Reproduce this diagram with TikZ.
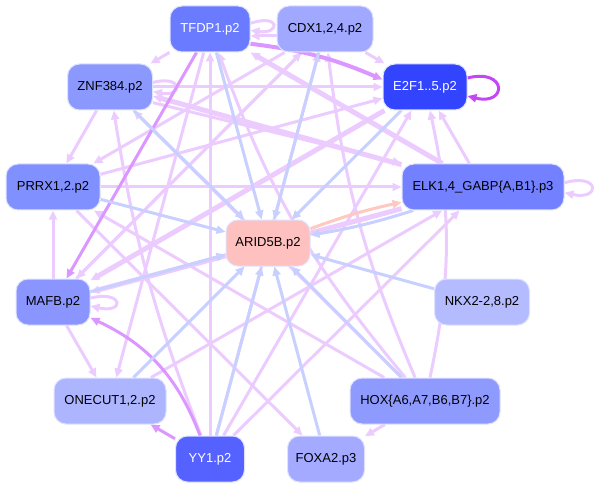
\documentclass[tikz,border=0pt]{standalone}
\usepackage{fontspec}
\setmainfont{Liberation Sans}
\usetikzlibrary{arrows.meta,backgrounds}
\definecolor{ndborder}{RGB}{222,226,255}
\definecolor{lpc}{RGB}{236,204,255}
\definecolor{spc}{RGB}{220,150,255}
\definecolor{mgc}{RGB}{196,70,245}
\definecolor{blc}{RGB}{200,208,255}
\definecolor{pkc}{RGB}{255,200,192}
\begin{document}
\begin{tikzpicture}[x=1pt,y=-1pt,
  nd/.style={rounded corners=12pt, draw=ndborder, line width=1pt, minimum height=46pt, inner sep=0pt,
    font=\fontsize{13}{15}\selectfont},
  tip/.style={-{Triangle[length=9pt,width=8pt]}},
  lp/.style={tip, draw=lpc, line width=3pt},
  lpt/.style={tip, draw=lpc, line width=5pt},
  sp/.style={tip, draw=spc, line width=3pt},
  mg/.style={tip, draw=mgc, line width=3pt},
  bl/.style={tip, draw=blc, line width=3pt},
  pk/.style={tip, draw=pkc, line width=3pt}]
\useasboundingbox (0,0) rectangle (594,489);
\node[nd, fill={rgb,255:red,107;green,123;blue,255}, text=white, minimum width=80pt] (tfdp) at (210,29) {TFDP1.p2};
\node[nd, fill={rgb,255:red,160;green,168;blue,255}, minimum width=96pt] (cdx) at (325,29) {CDX1,2,4.p2};
\node[nd, fill={rgb,255:red,51;green,68;blue,255}, text=white, minimum width=84pt] (e2f) at (425,87) {E2F1..5.p2};
\node[nd, fill={rgb,255:red,139;green,153;blue,255}, minimum width=85pt] (znf) at (110,87) {ZNF384.p2};
\node[nd, fill={rgb,255:red,128;green,144;blue,255}, minimum width=94pt] (prrx) at (53,187) {PRRX1,2.p2};
\node[nd, fill={rgb,255:red,115;green,128;blue,255}, minimum width=162pt] (elk) at (483,187) {ELK1,4\_GABP\{A,B1\}.p3};
\node[nd, fill={rgb,255:red,255;green,192;blue,192}, minimum width=84pt] (arid) at (268,243) {ARID5B.p2};
\node[nd, fill={rgb,255:red,180;green,188;blue,255}, minimum width=95pt] (nkx) at (482,302) {NKX2-2,8.p2};
\node[nd, fill={rgb,255:red,138;green,149;blue,255}, minimum width=74pt] (mafb) at (53,302) {MAFB.p2};
\node[nd, fill={rgb,255:red,173;green,181;blue,255}, minimum width=112pt] (onecut) at (110,401) {ONECUT1,2.p2};
\node[nd, fill={rgb,255:red,85;green,98;blue,255}, text=white, minimum width=69pt] (yy1) at (210,459) {YY1.p2};
\node[nd, fill={rgb,255:red,163;green,170;blue,255}, minimum width=77pt] (foxa) at (326,459) {FOXA2.p3};
\node[nd, fill={rgb,255:red,143;green,154;blue,255}, minimum width=150pt] (hox) at (425,401) {HOX\{A6,A7,B6,B7\}.p2};
\begin{scope}[on background layer]
% purple edges
\draw[lp] (tfdp) -- (znf);
\draw[lp] ([yshift=-7pt]cdx.west) -- ([yshift=-7pt]tfdp.east);
\draw[lp] (tfdp.8) .. controls +(30,-10) and +(30,4) .. (tfdp.-2);
\draw[lp] (cdx) -- (e2f);
\draw[lp] (znf) -- (prrx);
\draw[lp] (znf) -- (e2f);
\draw[lp] (znf.6) .. controls +(30,-8) and +(30,6) .. (znf.-6);
\draw[lpt] (elk) -- (znf.-12);
\draw[lpt] (elk) -- (tfdp.south east);
\draw[lp] (znf.-20) -- (elk.north west);
\draw[lp] (prrx) -- (elk);
\draw[lp] (prrx) -- (e2f);
\draw[lp] (prrx) -- (foxa);
\draw[lp] (cdx) -- (prrx);
\draw[lp] (hox) -- (prrx);
\draw[lp] (mafb) -- (prrx);
\draw[lp] (mafb) -- (onecut);
\draw[lp] (mafb.6) .. controls +(34,-8) and +(34,8) .. (mafb.-6);
\draw[lp] (cdx) -- (mafb);
\draw[lpt] (e2f) -- (mafb);
\draw[lpt] (elk) -- (mafb);
\draw[lp] (mafb) -- (cdx);
\draw[lp] (tfdp) -- (onecut);
\draw[lp] (onecut) -- (elk);
\draw[lp] (yy1) -- (tfdp);
\draw[lp] (yy1) to[bend left=6] (znf);
\draw[lp] (yy1) -- (cdx);
\draw[lp] (yy1) -- (e2f);
\draw[lp] (yy1) -- (elk);
\draw[lp] (hox) -- (foxa);
\draw[lp] (hox) -- (znf);
\draw[lp] (hox) to[bend left=10] (tfdp);
\draw[lp] (hox) to[bend left=8] (cdx);
\draw[lp] (hox) to[bend right=12] (e2f);
\draw[lp] (elk) -- (e2f);
\draw[lp] (elk.3) .. controls +(36,-10) and +(36,8) .. (elk.-4);
\draw[sp] (tfdp) -- (mafb);
\draw[sp, line width=4pt] (tfdp.-20) to[bend left=8] (e2f.170);
\draw[sp] (yy1) -- (onecut);
\draw[sp] (yy1) to[bend right=22] (mafb);
\draw[mg] (e2f.12) .. controls +(40,-10) and +(40,10) .. (e2f.-12);
% blue edges into ARID5B
\draw[bl] (tfdp) -- (arid);
\draw[bl] (cdx) -- (arid);
\draw[bl] (znf) -- (arid);
\draw[bl] (prrx) -- (arid);
\draw[bl] (e2f) -- (arid);
\draw[bl] (elk) to[bend left=4] (arid);
\draw[pk] (arid) to[bend left=4] (elk);
\draw[bl] (mafb) -- (arid);
\draw[bl] (onecut) -- (arid);
\draw[bl] (yy1) -- (arid);
\draw[bl] (foxa) -- (arid);
\draw[bl] (hox) -- (arid);
\draw[bl] (nkx) -- (arid);
\end{scope}
\end{tikzpicture}
\end{document}
